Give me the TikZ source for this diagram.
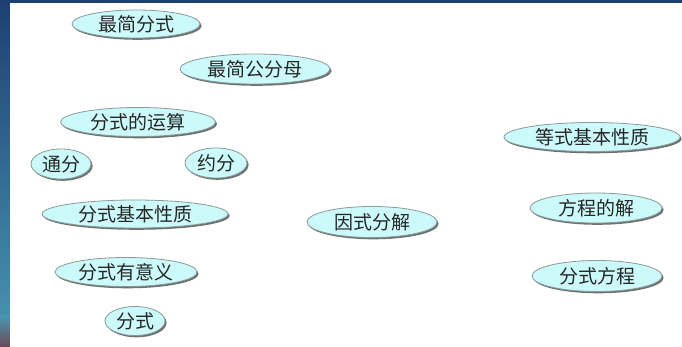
\documentclass[tikz,border=0pt]{standalone}
\usepackage{fontspec}
\newfontfamily\cjk{Noto Sans CJK SC}
\usetikzlibrary{shapes.geometric,shadows}
\definecolor{ellfill}{HTML}{CCFAFA}
\definecolor{ellline}{HTML}{8A9A9A}
\definecolor{shade}{HTML}{5E6262}
\definecolor{stripA}{HTML}{1E3F72}
\definecolor{stripB}{HTML}{2F6FA0}
\definecolor{stripC}{HTML}{4A98B2}
\definecolor{stripD}{HTML}{6A4A58}
\tikzset{
  term/.style={ellipse, draw=ellline, line width=0.8pt, fill=ellfill,
    inner sep=0pt, font=\cjk\fontsize{19}{22}\selectfont, text=black!85,
    drop shadow={shadow xshift=1.6pt, shadow yshift=-1.8pt, fill=shade, opacity=0.9}},
}
\begin{document}
\begin{tikzpicture}[x=1pt,y=-1pt]
\useasboundingbox (0,0) rectangle (682,347);
% background frame
\shade[top color=stripA, middle color=stripB, bottom color=stripC] (0,0) rectangle (682,347);
\shade[top color=stripC, bottom color=stripD] (0,315) rectangle (10,347);
\fill[white] (10,3) rectangle (682,347);
% nodes
\node[term, minimum width=128pt, minimum height=28pt] (zjfs) at (136,24) {最简分式};
\node[term, minimum width=150pt, minimum height=30pt] (zjgfm) at (255,69) {最简公分母};
\node[term, minimum width=155pt, minimum height=29pt] (fsys) at (138,122) {分式的运算};
\node[term, minimum width=60pt, minimum height=30pt] (tf) at (61,164) {通分};
\node[term, minimum width=62pt, minimum height=30pt] (yf) at (216,163) {约分};
\node[term, minimum width=186pt, minimum height=28pt] (fsjb) at (135,214) {分式基本性质};
\node[term, minimum width=142pt, minimum height=29pt] (fsyyy) at (126,272) {分式有意义};
\node[term, minimum width=60pt, minimum height=29pt] (fs) at (135,321) {分式};
\node[term, minimum width=130pt, minimum height=31pt] (ysfj) at (372,222) {因式分解};
\node[term, minimum width=176pt, minimum height=29pt] (dsjb) at (592,137) {等式基本性质};
\node[term, minimum width=132pt, minimum height=30pt] (fcdj) at (596,208) {方程的解};
\node[term, minimum width=130pt, minimum height=31pt] (fsfc) at (597,276) {分式方程};
\end{tikzpicture}
\end{document}
